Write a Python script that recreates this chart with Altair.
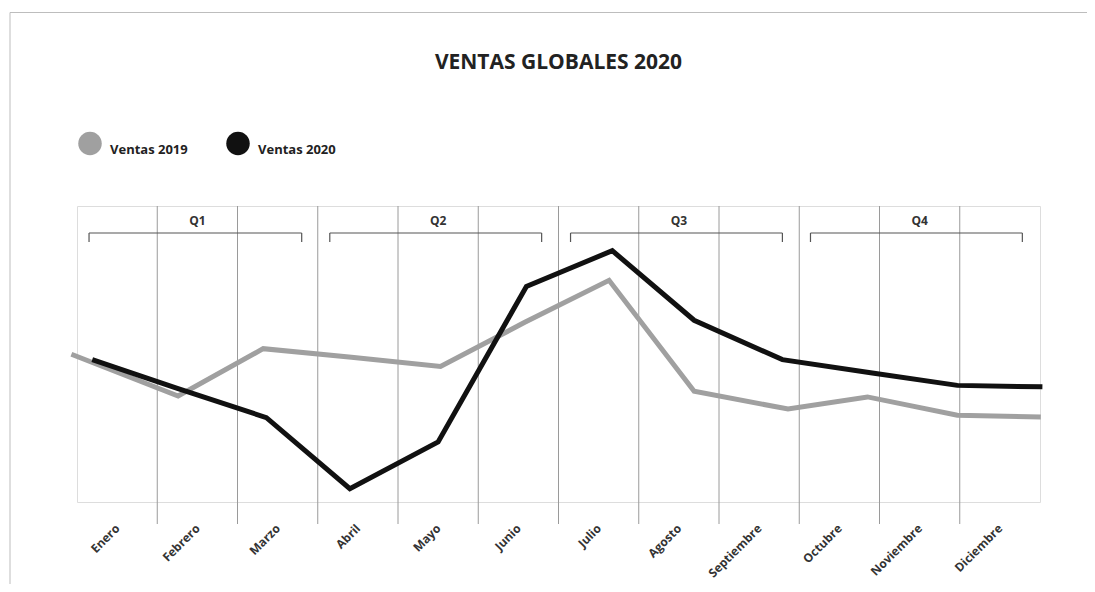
import altair as alt
import pandas as pd

# ---- data ----
months = ["Enero", "Febrero", "Marzo", "Abril", "Mayo", "Junio",
          "Julio", "Agosto", "Septiembre", "Octubre", "Noviembre", "Diciembre"]

title_text = "VENTAS GLOBALES 2020"
series_2019 = "Ventas 2019"
series_2020 = "Ventas 2020"

# horizontal position of each vertex, in month units (0 = left edge of Enero)
pos_2019 = [-0.07, 1.26, 2.32, 3.42, 4.53, 5.58, 6.63, 7.69, 8.86, 9.85, 10.97, 12.01]
val_2019 = [49.9, 35.8, 51.8, 48.9, 45.8, 60.7, 74.9, 37.4, 31.4, 35.5, 29.3, 28.7]

pos_2020 = [0.19, 1.25, 2.36, 3.40, 4.50, 5.60, 6.67, 7.69, 8.79, 9.91, 10.97, 12.03]
val_2020 = [48.1, 38.4, 28.5, 4.5, 20.3, 72.8, 84.9, 61.4, 48.1, 43.6, 39.4, 38.9]

quarters = ["Q1", "Q2", "Q3", "Q4"]
q_start = [0.15, 3.15, 6.15, 9.14]
q_end = [2.80, 5.79, 8.79, 11.78]
q_mid = [1.5, 4.5, 7.5, 10.5]

boundaries = list(range(1, 12))
label_positions = [i + 0.5 for i in range(12)]

series_domain = [series_2019, series_2020]
series_colors = ["#a0a0a0", "#111111"]

# ---- tables ----
lines_df = pd.DataFrame({
    "pos": pos_2019 + pos_2020,
    "valor": val_2019 + val_2020,
    "serie": [series_2019] * len(pos_2019) + [series_2020] * len(pos_2020),
})
q_df = pd.DataFrame({"q": quarters, "start": q_start, "end": q_end, "mid": q_mid})
b_df = pd.DataFrame({"b": boundaries})
one = pd.DataFrame({"t": [title_text]})

W, H = 963, 296
xscale = alt.Scale(domain=[0, 12], nice=False, zero=False)
yscale = alt.Scale(domain=[0, 100], nice=False, zero=False)

month_array = "[" + ",".join("'" + m + "'" for m in months) + "]"
xaxis = alt.Axis(
    values=label_positions,
    labelExpr=month_array + "[floor(datum.value)]",
    ticks=False, domain=False, grid=False, title=None,
    labelAngle=-45, labelAlign="right", labelBaseline="middle",
    labelPadding=24, labelFont="Open Sans", labelFontWeight="bold",
    labelFontSize=12, labelColor="#333333", labelOverlap=False,
    labelFlush=False, labelBound=False,
)

grid = alt.Chart(b_df).mark_rule(color="#9a9a9a", strokeWidth=1).encode(
    x=alt.X("b:Q", scale=xscale, axis=xaxis),
    y=alt.value(0), y2=alt.value(H + 22),
)

bracket_h = alt.Chart(q_df).mark_rule(color="#555555", strokeWidth=1.2).encode(
    x=alt.X("start:Q", scale=xscale, axis=xaxis), x2="end:Q", y=alt.value(27),
)
bracket_l = alt.Chart(q_df).mark_rule(color="#555555", strokeWidth=1.2).encode(
    x=alt.X("start:Q", scale=xscale, axis=xaxis), y=alt.value(27), y2=alt.value(36),
)
bracket_r = alt.Chart(q_df).mark_rule(color="#555555", strokeWidth=1.2).encode(
    x=alt.X("end:Q", scale=xscale, axis=xaxis), y=alt.value(27), y2=alt.value(36),
)
q_text = alt.Chart(q_df).mark_text(
    font="Open Sans", fontWeight="bold", fontSize=12, color="#333333",
    baseline="middle", align="center",
).encode(
    x=alt.X("mid:Q", scale=xscale, axis=xaxis), y=alt.value(15), text="q:N",
)

lines = alt.Chart(lines_df).mark_line(
    strokeWidth=5, strokeJoin="miter", strokeCap="butt"
).encode(
    x=alt.X("pos:Q", scale=xscale, axis=xaxis),
    y=alt.Y("valor:Q", scale=yscale, axis=None),
    stroke=alt.Stroke(
        "serie:N",
        scale=alt.Scale(domain=series_domain, range=series_colors),
        legend=None,
    ),
)

# invisible filled points that provide the (filled circle) legend
legend_pts = alt.Chart(lines_df).mark_circle(opacity=0).encode(
    x=alt.X("pos:Q", scale=xscale, axis=xaxis),
    y=alt.Y("valor:Q", scale=yscale, axis=None),
    fill=alt.Fill(
        "serie:N",
        scale=alt.Scale(domain=series_domain, range=series_colors),
        legend=alt.Legend(
            title=None, orient="none", legendX=1, legendY=-74.5,
            direction="horizontal", symbolType="circle", symbolSize=552,
            symbolStrokeWidth=0, symbolOpacity=1,
            labelFont="Open Sans", labelFontWeight="bold",
            labelFontSize=13, labelColor="#222222", labelOffset=8,
            columnPadding=38, labelBaseline="top",
        ),
    ),
)

title = alt.Chart(one).mark_text(
    font="Open Sans", fontWeight="bold", fontSize=21, color="#222222",
    align="center", baseline="alphabetic",
).encode(text="t:N", x=alt.value(W / 2), y=alt.value(-137.5))

frame_top = alt.Chart(one).mark_rule(color="#bdbdbd", strokeWidth=1).encode(
    x=alt.value(-67), x2=alt.value(1100), y=alt.value(-193.5),
)
frame_left = alt.Chart(one).mark_rule(color="#bdbdbd", strokeWidth=1).encode(
    x=alt.value(-67), y=alt.value(-193.5), y2=alt.value(600),
)

chart = alt.layer(
    frame_top, frame_left, title, grid, bracket_h, bracket_l, bracket_r, q_text,
    legend_pts, lines
).properties(
    width=W, height=H,
    autosize=alt.AutoSizeParams(type="none"),
    padding={"left": 69, "top": 198, "right": 47, "bottom": 82},
).configure_view(
    stroke="#9a9a9a", strokeWidth=1
).configure(
    font="Open Sans"
)

chart.save("out.html", embed_options={"renderer": "svg", "actions": False})
